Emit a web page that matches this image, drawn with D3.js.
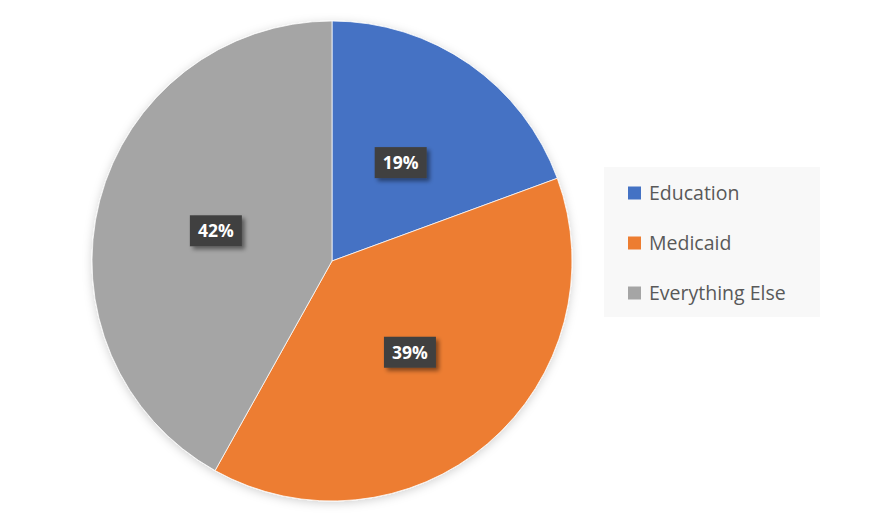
<!DOCTYPE html>
<html>
<head>
<meta charset="utf-8">
<script src="https://cdn.jsdelivr.net/npm/d3@7"></script>
<style>
  body { margin: 0; background: #fff; }
  svg { display: block; font-family: "Open Sans", "Noto Sans", sans-serif; }
</style>
</head>
<body>
<svg id="chart" width="869" height="521"></svg>
<script>
const categories = ['Education', 'Medicaid', 'Everything Else'];
const values = [19.4, 38.7, 41.9];
const colors = ['#4472C4', '#ED7D31', '#A5A5A5'];

const width = 869, height = 521;
const cx = 332, cy = 261, radius = 240;

const svg = d3.select('#chart');
const defs = svg.append('defs');

// soft shadow for the pie
const pieShadow = defs.append('filter').attr('id', 'pie-shadow')
  .attr('x', '-10%').attr('y', '-10%').attr('width', '120%').attr('height', '120%');
pieShadow.append('feDropShadow').attr('dx', 0).attr('dy', 2)
  .attr('stdDeviation', 5).attr('flood-color', '#000').attr('flood-opacity', 0.18);

// shadow for label boxes
const boxShadow = defs.append('filter').attr('id', 'box-shadow')
  .attr('x', '-20%').attr('y', '-20%').attr('width', '150%').attr('height', '160%');
boxShadow.append('feDropShadow').attr('dx', 3).attr('dy', 3)
  .attr('stdDeviation', 2).attr('flood-color', '#000').attr('flood-opacity', 0.45);

const color = d3.scaleOrdinal().domain(categories).range(colors);

const pie = d3.pie().sort(null).value(d => d.value);
const data = pie(categories.map((c, i) => ({ key: c, value: values[i] })));
const arc = d3.arc().innerRadius(0).outerRadius(radius);
const total = d3.sum(values);

const g = svg.append('g').attr('transform', `translate(${cx},${cy})`);

g.append('g').attr('filter', 'url(#pie-shadow)')
  .selectAll('path').data(data).enter().append('path')
  .attr('d', arc)
  .attr('fill', d => color(d.data.key))
  .attr('stroke', '#fff').attr('stroke-width', 0.75);

// data labels
const labels = g.selectAll('.lbl').data(data).enter().append('g')
  .attr('class', 'lbl')
  .attr('transform', d => `translate(${arc.centroid(d)})`);

labels.append('rect')
  .attr('x', -26).attr('y', -15.5).attr('width', 52).attr('height', 31)
  .attr('fill', '#404040')
  .attr('filter', 'url(#box-shadow)');

labels.append('text')
  .attr('text-anchor', 'middle').attr('dy', '0.36em')
  .attr('fill', '#fff').attr('font-weight', 'bold').attr('font-size', 17.5)
  .text(d => Math.round(d.data.value / total * 100) + '%');

// legend
const legend = svg.append('g').attr('transform', 'translate(604,167)');
legend.append('rect').attr('width', 216).attr('height', 150).attr('fill', '#f8f8f8');

const ly = d3.scalePoint().domain(categories).range([26, 126]);
const items = legend.selectAll('.item').data(categories).enter().append('g')
  .attr('class', 'item')
  .attr('transform', d => `translate(24,${ly(d)})`);

items.append('rect').attr('x', 0).attr('y', -6.5).attr('width', 13).attr('height', 13)
  .attr('fill', d => color(d));

items.append('text').attr('x', 21).attr('dy', '0.36em')
  .attr('fill', '#595959').attr('font-size', 19.5)
  .text(d => d);
</script>
</body>
</html>
